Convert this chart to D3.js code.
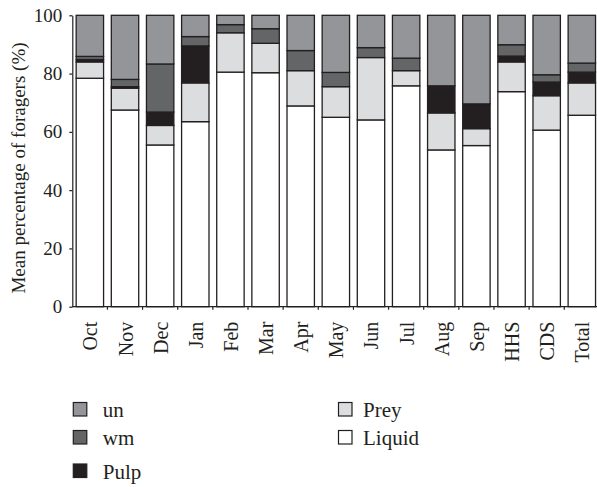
<!DOCTYPE html>
<html>
<head>
<meta charset="utf-8">
<script src="https://cdn.jsdelivr.net/npm/d3@7"></script>
<style>
  html, body { margin: 0; padding: 0; background: #fff; }
  svg { display: block; font-family: "Liberation Serif", "DejaVu Serif", serif; }
</style>
</head>
<body>
<svg id="chart" width="597" height="487"></svg>
<script>
// Foraging categories, in order along the x axis
const categories = ["Oct", "Nov", "Dec", "Jan", "Feb", "Mar", "Apr", "May", "Jun", "Jul", "Aug", "Sep", "HHS", "CDS", "Total"];

// Mean percentage of foragers carrying each load type
const liquid = [78.4, 67.5, 55.5, 63.5, 80.5, 80.3, 68.9, 65.0, 64.1, 75.8, 53.8, 55.3, 73.8, 60.6, 65.7];
const prey   = [5.6, 7.5, 6.7, 13.3, 13.5, 10.1, 12.1, 10.5, 21.4, 5.2, 12.7, 5.8, 10.2, 11.8, 11.1];
const pulp   = [0.8, 0.5, 4.6, 12.7, 0, 0, 0, 0, 0, 0, 9.3, 8.5, 2.0, 4.7, 3.7];
const wm     = [1.1, 2.5, 16.5, 3.2, 2.8, 5.0, 6.9, 4.9, 3.4, 4.3, 0, 0, 3.9, 2.5, 3.1];
const un     = [14.1, 22.0, 16.7, 7.3, 3.2, 4.6, 12.1, 19.6, 11.1, 14.7, 24.2, 30.4, 10.1, 20.4, 16.4];

// Series names (bottom to top of each stack) and y tick values
const seriesNames = ["Liquid", "Prey", "Pulp", "wm", "un"];
const yTicks = [0, 20, 40, 60, 80, 100];

const seriesValues = { Liquid: liquid, Prey: prey, Pulp: pulp, wm: wm, un: un };
const fills = { Liquid: "#ffffff", Prey: "#dcdddf", Pulp: "#231f20", wm: "#646567", un: "#939598" };
const ink = "#231f20";

const svg = d3.select("#chart");

const x0 = 72.3, step = 35.14;
const x = d3.scaleBand()
  .domain(categories)
  .range([x0, x0 + step * categories.length])
  .paddingInner(0.22)
  .paddingOuter(0.11);

const y = d3.scaleLinear().domain([0, 100]).range([306.7, 15.3]);

// Build stacked rows
const rows = categories.map((c, i) => {
  const r = { cat: c };
  seriesNames.forEach(s => r[s] = seriesValues[s][i]);
  return r;
});
const stacked = d3.stack().keys(seriesNames)(rows);

// Bars
const g = svg.append("g");
stacked.forEach(layer => {
  g.append("g")
    .selectAll("rect")
    .data(layer.filter(d => d[1] - d[0] > 0))
    .join("rect")
    .attr("x", d => x(d.data.cat))
    .attr("width", x.bandwidth())
    .attr("y", d => y(d[1]))
    .attr("height", d => y(d[0]) - y(d[1]))
    .attr("fill", fills[layer.key])
    .attr("stroke", ink)
    .attr("stroke-width", 1.3);
});

// Y axis
const yAxis = svg.append("g")
  .attr("transform", `translate(${x0},0)`)
  .call(d3.axisLeft(y).tickValues(yTicks).tickSize(3).tickPadding(7).tickSizeOuter(0));
yAxis.select(".domain").attr("stroke", ink).attr("stroke-width", 1.2);
yAxis.selectAll(".tick line").attr("stroke", ink).attr("stroke-width", 1.2);
yAxis.selectAll(".tick text")
  .attr("fill", ink)
  .style("font-family", "Liberation Serif, serif")
  .style("font-size", "19px");

// X axis: baseline with ticks at category boundaries
const xg = svg.append("g");
xg.append("line")
  .attr("x1", x0).attr("x2", x0 + step * categories.length)
  .attr("y1", y(0)).attr("y2", y(0))
  .attr("stroke", ink).attr("stroke-width", 1.2);
xg.selectAll("line.tk")
  .data(categories.slice(1))
  .join("line")
  .attr("class", "tk")
  .attr("x1", d => x(d) - x.step() * x.paddingInner() / 2)
  .attr("x2", d => x(d) - x.step() * x.paddingInner() / 2)
  .attr("y1", y(0)).attr("y2", y(0) + 3)
  .attr("stroke", ink).attr("stroke-width", 1.2);
xg.selectAll("text")
  .data(categories)
  .join("text")
  .attr("transform", d => `translate(${x(d) + x.bandwidth() / 2 + 7.5},${y(0) + 15}) rotate(-90)`)
  .attr("text-anchor", "end")
  .attr("fill", ink)
  .style("font-size", "20px")
  .text(d => d);

// Y axis title
svg.append("text")
  .attr("transform", "translate(25,168) rotate(-90)")
  .attr("text-anchor", "middle")
  .attr("fill", ink)
  .style("font-size", "19px")
  .text("Mean percentage of foragers (%)");

// Legend: two columns of swatches with labels
const legendItems = [
  { key: "un", x: 73.3, y: 402.5 },
  { key: "wm", x: 73.3, y: 430.5 },
  { key: "Pulp", x: 73.3, y: 464 },
  { key: "Prey", x: 338.5, y: 402.5 },
  { key: "Liquid", x: 338.5, y: 430.5 }
];
const lg = svg.append("g").selectAll("g").data(legendItems).join("g")
  .attr("transform", d => `translate(${d.x},${d.y})`);
lg.append("rect")
  .attr("width", 13.5).attr("height", 13.5)
  .attr("fill", d => fills[d.key])
  .attr("stroke", ink).attr("stroke-width", 1.2);
lg.append("text")
  .attr("x", d => d.x < 100 ? 29.5 : 24.5)
  .attr("y", d => d.key === "Pulp" ? 15 : 14)
  .attr("fill", ink)
  .style("font-size", "21px")
  .text(d => d.key);
</script>
</body>
</html>
